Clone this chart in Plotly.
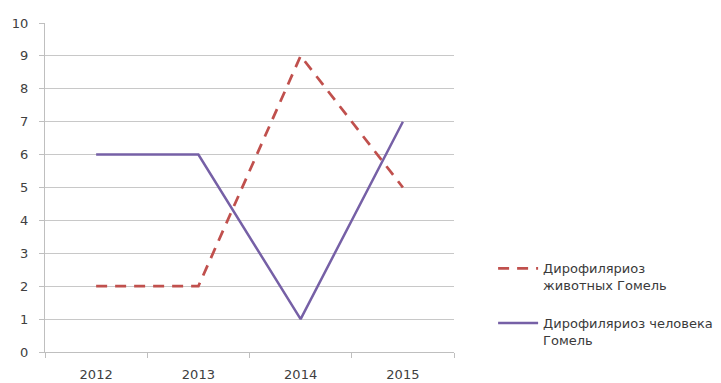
import plotly.graph_objects as go

years = ["2012", "2013", "2014", "2015"]
animals = [2, 2, 9, 5]
humans = [6, 6, 1, 7]
name_animals = "Дирофиляриоз<br>животных Гомель"
name_humans = "Дирофиляриоз человека<br>Гомель"

fig = go.Figure()
fig.add_trace(go.Scatter(x=years, y=animals, mode="lines", name=name_animals, legendgroup="a",
                         line=dict(color="#C0504D", width=2.75, dash="11px,8px")))
fig.add_trace(go.Scatter(x=years, y=humans, mode="lines", name=name_humans, legendgroup="b",
                         line=dict(color="#7660A6", width=2.5)))

fig.update_layout(
    width=721, height=383,
    margin=dict(l=45, r=267, t=23, b=31, autoexpand=False),
    paper_bgcolor="white", plot_bgcolor="white",
    font=dict(family="DejaVu Sans, sans-serif", size=13, color="#404040"),
    legend=dict(x=1.0956, xanchor="left", y=0.30, yanchor="top",
                itemwidth=40, valign="top", traceorder="grouped",
                font=dict(family="DejaVu Sans, sans-serif", size=13, color="#3A3A3A"),
                tracegroupgap=18, bgcolor="rgba(0,0,0,0)"),
    showlegend=True,
)
fig.update_xaxes(type="category", range=[-0.5, 3.5], showgrid=False, automargin=False,
                 showline=True, linecolor="#BFBFBF", linewidth=1,
                 ticks="outside", tickson="boundaries", ticklen=5, tickcolor="#BFBFBF",
                 ticklabelstandoff=10,
                 tickfont=dict(size=13, color="#404040"))
fig.update_yaxes(range=[0, 10], dtick=1, showgrid=True, gridcolor="#C8C8C8", automargin=False,
                 showline=True, linecolor="#BFBFBF", linewidth=1,
                 ticks="outside", ticklen=5, tickcolor="#BFBFBF", zeroline=False,
                 ticklabelstandoff=8,
                 tickfont=dict(size=13, color="#404040"))

fig.write_html("out.html")
